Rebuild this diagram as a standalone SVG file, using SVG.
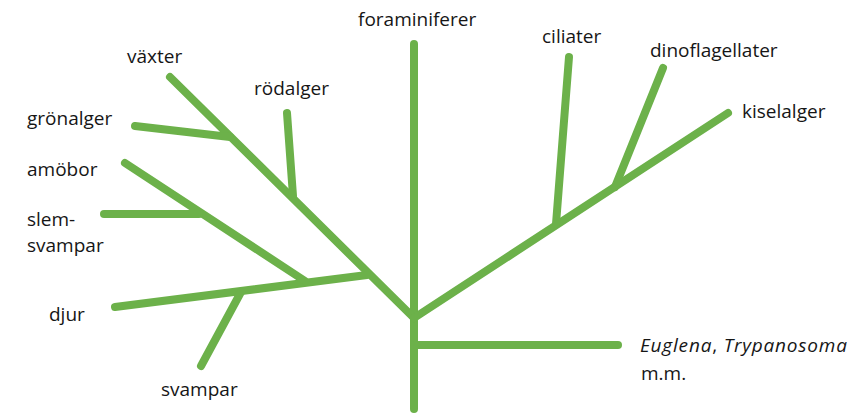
<svg xmlns="http://www.w3.org/2000/svg" width="855" height="417" viewBox="0 0 855 417">
  <style>
    .br { stroke: #6cb14a; stroke-width: 8; stroke-linecap: round; fill: none; }
    .lbl { font-family: "Open Sans", "Noto Sans", sans-serif; font-size: 19px; fill: #161616; }
    .it { font-style: italic; }
    .wide { letter-spacing: 0.8px; }
  </style>
  <rect width="855" height="417" fill="#ffffff"/>

  <!-- tree branches -->
  <g id="connectors">
    <!-- trunk -->
    <line class="br" x1="414" y1="44" x2="414" y2="409"/>
    <!-- left main limb (växter) -->
    <line class="br" x1="170" y1="77" x2="414" y2="318"/>
    <line class="br" x1="135" y1="126" x2="230" y2="137"/>
    <line class="br" x1="287" y1="113" x2="293" y2="196"/>
    <!-- djur limb -->
    <line class="br" x1="115" y1="307" x2="367" y2="275"/>
    <line class="br" x1="125" y1="163" x2="305" y2="281"/>
    <line class="br" x1="104" y1="214" x2="199" y2="214"/>
    <line class="br" x1="201" y1="366" x2="241" y2="292"/>
    <!-- right limb -->
    <line class="br" x1="414" y1="318" x2="728" y2="113"/>
    <line class="br" x1="569" y1="57" x2="556" y2="224"/>
    <line class="br" x1="663" y1="68" x2="615" y2="187"/>
    <!-- Euglena limb -->
    <line class="br" x1="414" y1="345" x2="618" y2="345"/>
  </g>

  <g id="foraminiferer"><text class="lbl" x="358" y="26">foraminiferer</text></g>
  <g id="vaxter"><text class="lbl" x="127" y="63">växter</text></g>
  <g id="rodalger"><text class="lbl" x="254" y="95">rödalger</text></g>
  <g id="gronalger"><text class="lbl" x="27" y="125">grönalger</text></g>
  <g id="amobor"><text class="lbl" x="27" y="176">amöbor</text></g>
  <g id="slemsvampar">
    <text class="lbl" x="27" y="226">slem-</text>
    <text class="lbl" x="27" y="252">svampar</text>
  </g>
  <g id="djur"><text class="lbl" x="49" y="321">djur</text></g>
  <g id="svampar"><text class="lbl" x="161" y="396">svampar</text></g>
  <g id="ciliater"><text class="lbl" x="542" y="43">ciliater</text></g>
  <g id="dinoflagellater"><text class="lbl" x="650" y="57">dinoflagellater</text></g>
  <g id="kiselalger"><text class="lbl" x="742" y="118">kiselalger</text></g>
  <g id="euglena">
    <text class="lbl wide" x="640" y="352"><tspan class="it">Euglena</tspan>, <tspan class="it">Trypanosoma</tspan></text>
    <text class="lbl" x="641" y="380">m.m.</text>
  </g>
</svg>
